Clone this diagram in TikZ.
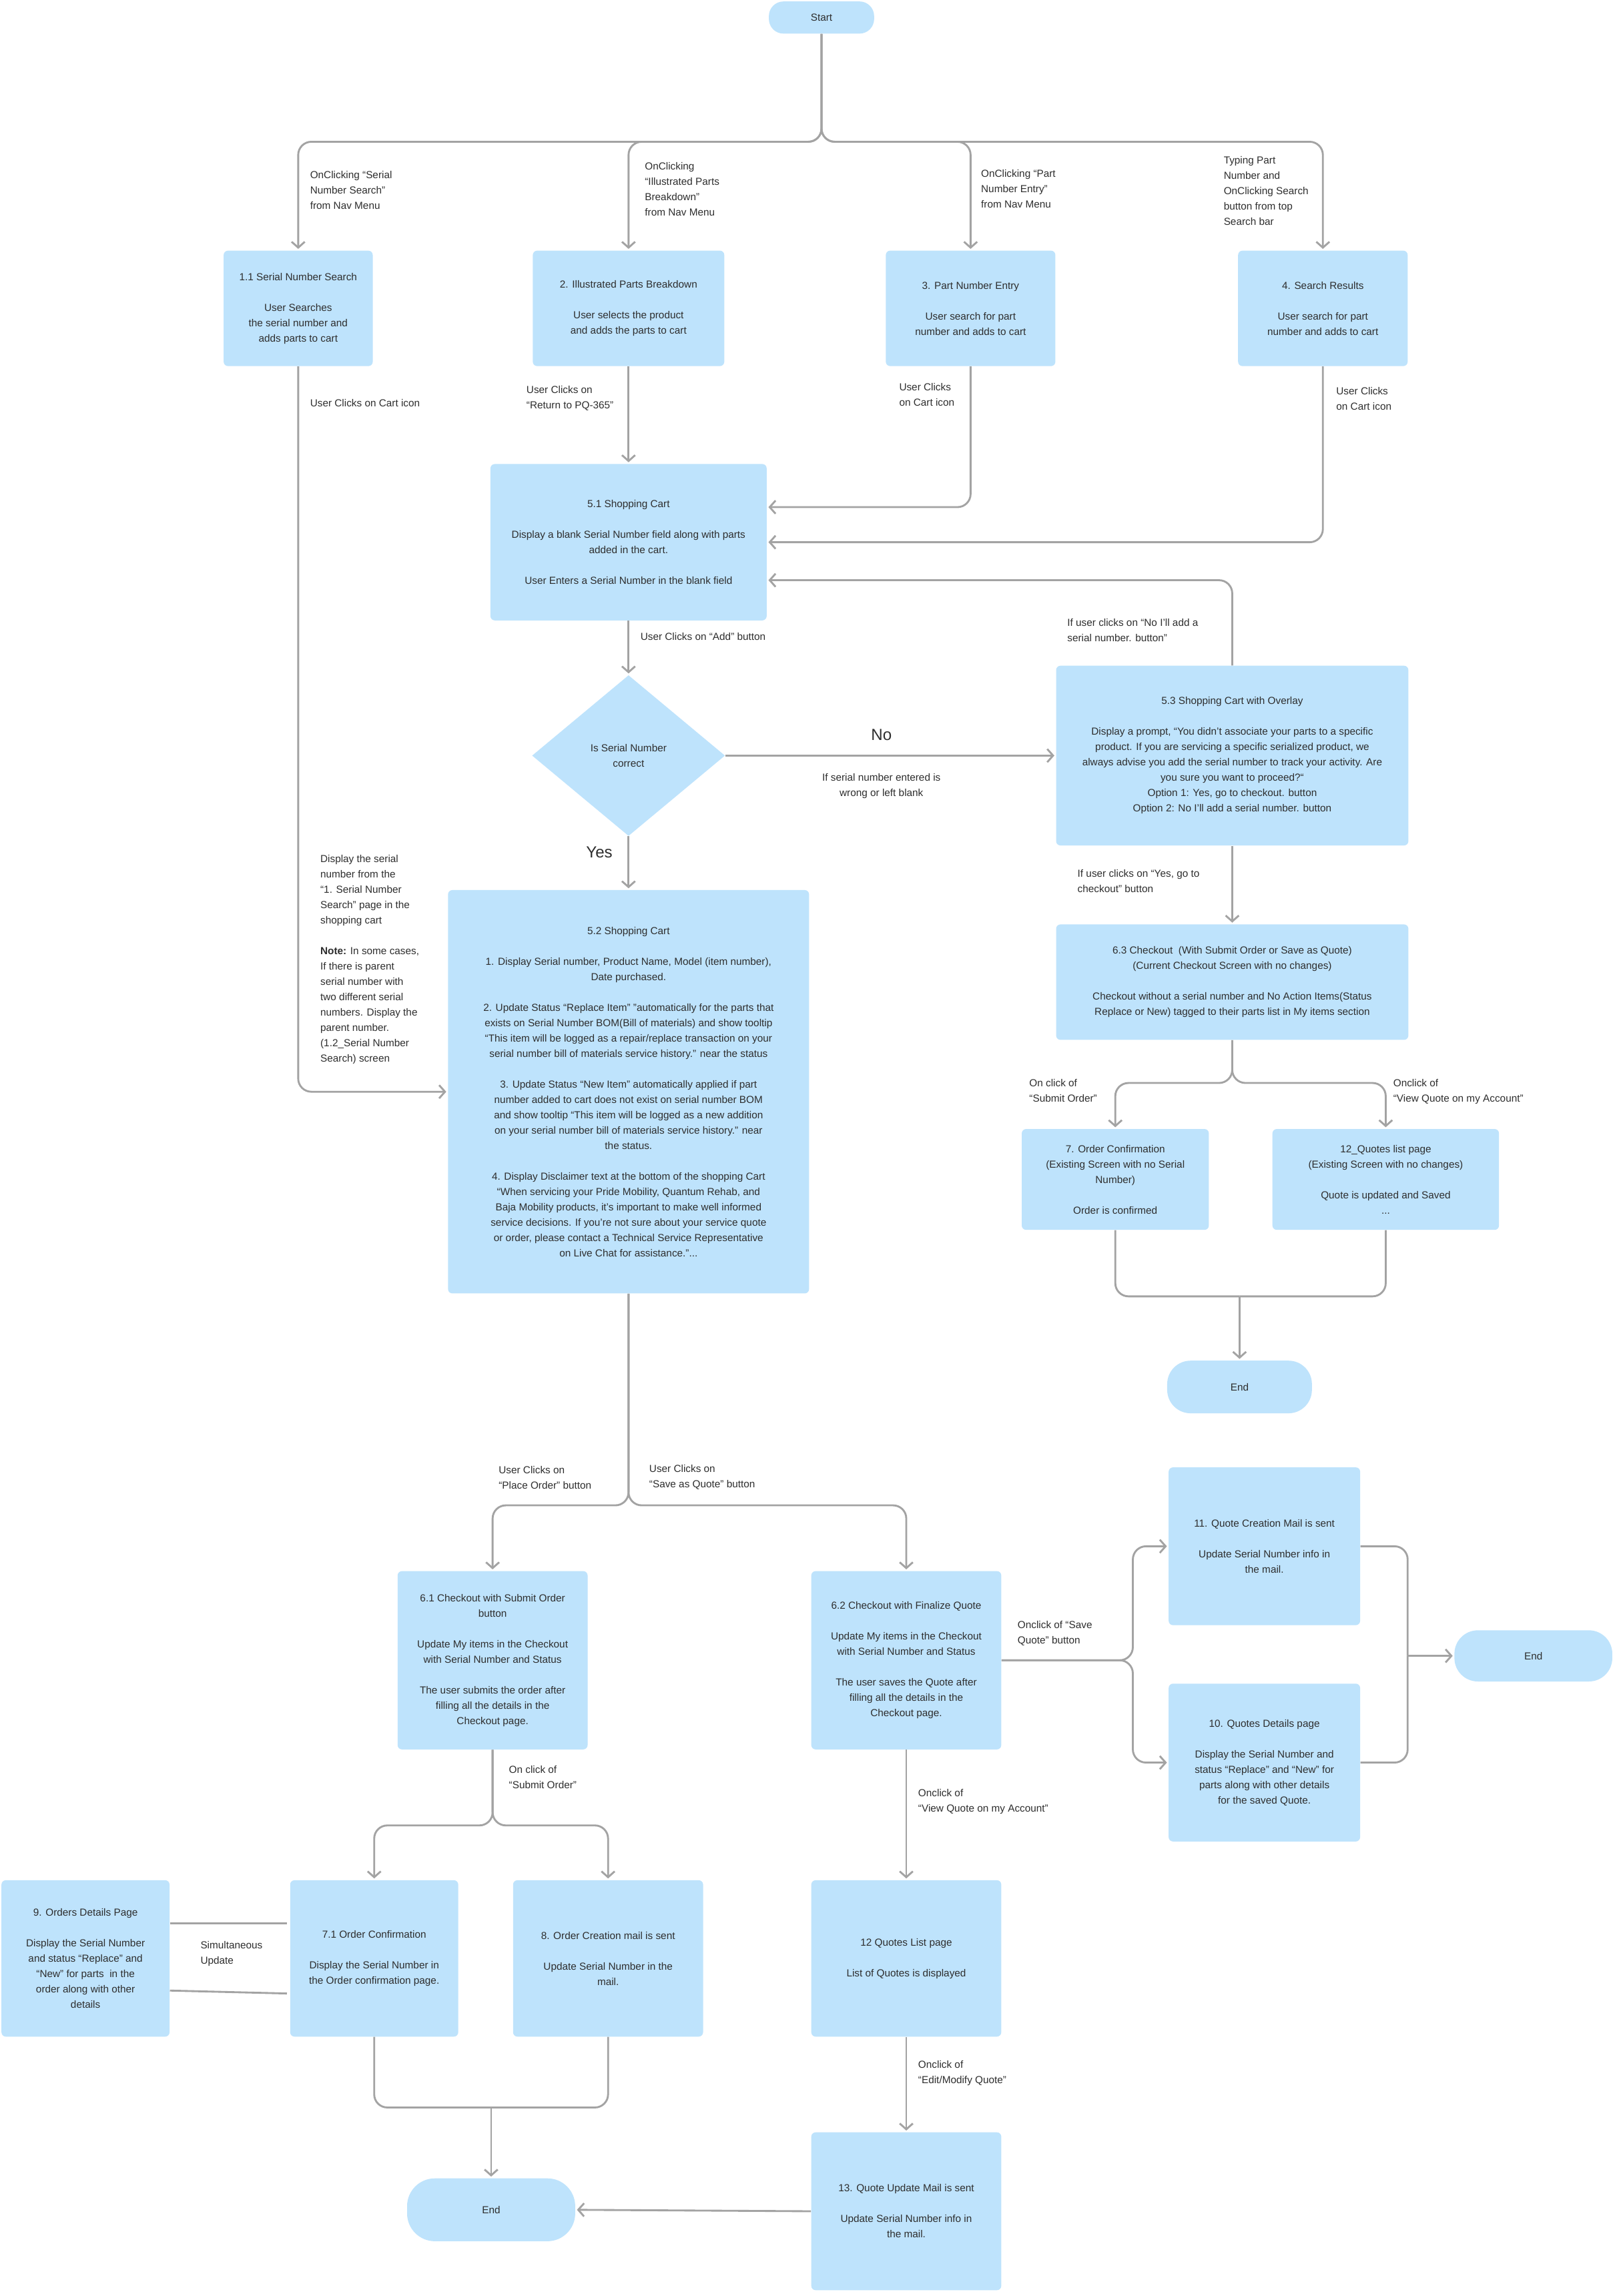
\documentclass[tikz,border=0pt]{standalone}
\usepackage{fontspec}
\setmainfont{Liberation Sans}
\usetikzlibrary{shapes.geometric,arrows.meta}
\definecolor{boxblue}{HTML}{BEE3FC}
\definecolor{lngray}{HTML}{A3A3A3}
\definecolor{txt}{HTML}{2E2E2E}
\newcommand\blk{\\[10.5pt]}
\newcommand\sz{\fontsize{7}{10.5}\selectfont}
\begin{document}
\begin{tikzpicture}[x=1pt,y=-1pt,
  box/.style={fill=boxblue,rounded corners=3pt,align=center,font=\sz,text=txt,inner sep=2pt},
  pill/.style={fill=boxblue,align=center,font=\sz,text=txt},
  lbl/.style={align=left,font=\sz,text=txt,anchor=north west,inner sep=0pt},
  ln/.style={draw=lngray,line width=1.3pt,rounded corners=9pt},
  arr/.style={ln,-{Straight Barb[length=4pt,width=9pt,line width=1.3pt]},shorten >=1pt}]
\useasboundingbox[fill=white] (0,0) rectangle (1106,1571);

% nodes
\node[pill,rounded corners=10pt,minimum width=72pt,minimum height=22pt] (start) at (562,12) {Start};
\node[box,minimum width=102pt,minimum height=79pt] (b11) at (204,211) {1.1 Serial Number Search\blk User Searches\\the serial number and\\adds parts to cart};
\node[box,minimum width=131pt,minimum height=79pt] (b2) at (430,211) {2. Illustrated Parts Breakdown\blk User selects the product\\and adds the parts to cart};
\node[box,minimum width=116pt,minimum height=79pt] (b3) at (664,211) {3. Part Number Entry\blk User search for part\\number and adds to cart};
\node[box,minimum width=116pt,minimum height=79pt] (b4) at (905,211) {4. Search Results\blk User search for part\\number and adds to cart};
\node[box,minimum width=189pt,minimum height=107pt] (c51) at (430,371) {5.1 Shopping Cart\blk Display a blank Serial Number field along with parts\\added in the cart.\blk User Enters a Serial Number in the blank field};
\node[diamond,fill=boxblue,minimum width=132pt,minimum height=110pt,inner sep=0pt,align=center,font=\sz,text=txt] (dia) at (430,517) {Is Serial Number\\correct};
\node[box,minimum width=241pt,minimum height=123pt] (c53) at (843,517) {5.3 Shopping Cart with Overlay\blk Display a prompt, “You didn’t associate your parts to a specific\\product. If you are servicing a specific serialized product, we\\always advise you add the serial number to track your activity. Are\\you sure you want to proceed?“\\Option 1: Yes, go to checkout. button\\Option 2: No I’ll add a serial number. button};
\node[box,minimum width=241pt,minimum height=79pt] (c63) at (843,672) {6.3 Checkout\ \ (With Submit Order or Save as Quote)\\(Current Checkout Screen with no changes)\blk Checkout without a serial number and No Action Items(Status\\Replace or New) tagged to their parts list in My items section};
\node[box,minimum width=128pt,minimum height=69pt] (b7) at (763,807) {7. Order Confirmation\\(Existing Screen with no Serial\\Number)\blk Order is confirmed};
\node[box,minimum width=155pt,minimum height=69pt] (b12q) at (948,807) {12\_Quotes list page\\(Existing Screen with no changes)\blk Quote is updated and Saved\\...};
\node[pill,rounded corners=16pt,minimum width=99pt,minimum height=36pt] (end1) at (848,949) {End};
\node[box,minimum width=247pt,minimum height=276pt] (c52) at (430,747) {5.2 Shopping Cart\blk 1. Display Serial number, Product Name, Model (item number),\\Date purchased.\blk 2. Update Status “Replace Item” ”automatically for the parts that\\exists on Serial Number BOM(Bill of materials) and show tooltip\\“This item will be logged as a repair/replace transaction on your\\serial number bill of materials service history.” near the status\blk 3. Update Status “New Item” automatically applied if part\\number added to cart does not exist on serial number BOM\\and show tooltip “This item will be logged as a new addition\\on your serial number bill of materials service history.” near\\the status.\blk 4. Display Disclaimer text at the bottom of the shopping Cart\\“When servicing your Pride Mobility, Quantum Rehab, and\\Baja Mobility products, it’s important to make well informed\\service decisions. If you’re not sure about your service quote\\or order, please contact a Technical Service Representative\\on Live Chat for assistance.”...};
\node[box,minimum width=130pt,minimum height=122pt] (b61) at (337,1136) {6.1 Checkout with Submit Order\\button\blk Update My items in the Checkout\\with Serial Number and Status\blk The user submits the order after\\filling all the details in the\\Checkout page.};
\node[box,minimum width=130pt,minimum height=122pt] (b62) at (620,1136) {6.2 Checkout with Finalize Quote\blk Update My items in the Checkout\\with Serial Number and Status\blk The user saves the Quote after\\filling all the details in the\\Checkout page.};
\node[box,minimum width=131pt,minimum height=108pt] (b11q) at (865,1058) {11. Quote Creation Mail is sent\blk Update Serial Number info in\\the mail.};
\node[box,minimum width=131pt,minimum height=108pt] (b10) at (865,1206) {10. Quotes Details page\blk Display the Serial Number and\\status “Replace” and “New” for\\parts along with other details\\for the saved Quote.};
\node[pill,rounded corners=16pt,minimum width=108pt,minimum height=35pt] (end2) at (1049,1133) {End};
\node[box,minimum width=115pt,minimum height=107pt] (b71) at (256,1340) {7.1 Order Confirmation\blk Display the Serial Number in\\the Order confirmation page.};
\node[box,minimum width=130pt,minimum height=107pt] (b8) at (416,1340) {8. Order Creation mail is sent\blk Update Serial Number in the\\mail.};
\node[box,minimum width=115pt,minimum height=107pt] (b9) at (58.5,1340) {9. Orders Details Page\blk Display the Serial Number\\and status “Replace” and\\“New” for parts\ \ in the\\order along with other\\details};
\node[box,minimum width=130pt,minimum height=107pt] (bq12) at (620,1340) {12 Quotes List page\blk List of Quotes is displayed};
\node[box,minimum width=130pt,minimum height=108pt] (b13) at (620,1513) {13. Quote Update Mail is sent\blk Update Serial Number info in\\the mail.};
\node[pill,rounded corners=19pt,minimum width=115pt,minimum height=43pt] (end3) at (336,1512) {End};

% labels
\node[lbl] (l1) at (212,117) {OnClicking “Serial\\Number Search”\\from Nav Menu};
\node[lbl] (l2) at (441,111) {OnClicking\\“Illustrated Parts\\Breakdown”\\from Nav Menu};
\node[lbl] (l3) at (671,116) {OnClicking “Part\\Number Entry”\\from Nav Menu};
\node[lbl] (l4) at (837,107) {Typing Part\\Number and\\OnClicking Search\\button from top\\Search bar};
\node[lbl] (l5) at (360,264) {User Clicks on\\“Return to PQ-365”};
\node[lbl] (l6) at (615,262) {User Clicks\\on Cart icon};
\node[lbl] (l7) at (914,265) {User Clicks\\on Cart icon};
\node[lbl] (l8) at (212,273) {User Clicks on Cart icon};
\node[lbl] (l9) at (730,423) {If user clicks on “No I’ll add a\\serial number. button”};
\node[lbl] (l10) at (438,433) {User Clicks on “Add” button};
\node[font=\fontsize{11}{13}\selectfont,text=txt] (lno) at (603,503) {No};
\node[align=center,font=\sz,text=txt] (lno2) at (603,538) {If serial number entered is\\wrong or left blank};
\node[font=\fontsize{11}{13}\selectfont,text=txt] (lyes) at (410,583) {Yes};
\node[lbl] (l11) at (219,585) {Display the serial\\number from the\\“1. Serial Number\\Search” page in the\\shopping cart\blk \textbf{Note:} In some cases,\\If there is parent\\serial number with\\two different serial\\numbers. Display the\\parent number.\\(1.2\_Serial Number\\Search) screen};
\node[lbl] (l12) at (737,595) {If user clicks on “Yes, go to\\checkout” button};
\node[lbl] (l13) at (704,738) {On click of\\“Submit Order”};
\node[lbl] (l14) at (953,738) {Onclick of\\“View Quote on my Account”};
\node[lbl] (l15) at (341,1003) {User Clicks on\\“Place Order” button};
\node[lbl] (l16) at (444,1002) {User Clicks on\\“Save as Quote” button};
\node[lbl] (l17) at (696,1109) {Onclick of “Save\\Quote” button};
\node[lbl] (l18) at (348,1208) {On click of\\“Submit Order”};
\node[lbl] (l19) at (628,1224) {Onclick of\\“View Quote on my Account”};
\node[lbl] (l20) at (137,1328) {Simultaneous\\Update};
\node[lbl] (l21) at (628,1410) {Onclick of\\“Edit/Modify Quote”};

% coordinates
\coordinate (hub) at (562,97);
\coordinate (s63) at (843,741);
\coordinate (m1) at (848,887);
\coordinate (s52) at (430,1030);
\coordinate (s62) at (775,1136);
\coordinate (m2) at (963,1133);
\coordinate (s61) at (337,1249);
\coordinate (m3) at (336,1442);

% connectors
\draw[arr] (start.south) -- (hub) -| (b11.north);
\draw[arr] (start.south) -- (hub) -| (b2.north);
\draw[arr] (start.south) -- (hub) -| (b3.north);
\draw[arr] (start.south) -- (hub) -| (b4.north);
\draw[arr] (b2.south) -- (c51.north);
\draw[arr] (b3.south) |- ([yshift=24pt]c51.east);
\draw[arr] (b4.south) |- (c51.east);
\draw[arr] (c53.north) |- ([yshift=-26pt]c51.east);
\draw[arr] (b11.south) |- (c52.west);
\draw[arr] (c51.south) -- (dia.north);
\draw[arr] (dia.east) -- (c53.west);
\draw[arr] (dia.south) -- (c52.north);
\draw[arr] (c53.south) -- (c63.north);
\draw[arr] (c63.south) -- (s63) -| (b7.north);
\draw[arr] (c63.south) -- (s63) -| (b12q.north);
\draw[ln] (b7.south) |- (m1);
\draw[ln] (b12q.south) |- (m1);
\draw[arr] (m1) -- (end1.north);
\draw[arr] (c52.south) -- (s52) -| (b61.north);
\draw[arr] (c52.south) -- (s52) -| (b62.north);
\draw[arr] (b62.east) -- (s62) |- (b11q.west);
\draw[arr] (b62.east) -- (s62) |- (b10.west);
\draw[ln] (b11q.east) -| (m2);
\draw[ln] (b10.east) -| (m2);
\draw[arr] (m2) -- (end2.west);
\draw[arr] (b61.south) -- (s61) -| (b71.north);
\draw[arr] (b61.south) -- (s61) -| (b8.north);
\draw[ln] (b71.south) |- (m3);
\draw[ln] (b8.south) |- (m3);
\draw[arr] (m3) -- (end3.north);
\draw[ln] ([yshift=24pt]b9.east) -- ([yshift=24pt,xshift=-2pt]b71.west);
\draw[ln] ([yshift=-22pt]b9.east) -- ([yshift=-24pt,xshift=-2pt]b71.west);
\draw[arr] (b62.south) -- (bq12.north);
\draw[arr] (bq12.south) -- (b13.north);
\draw[arr] (b13.west) -- (end3.east);
\end{tikzpicture}
\end{document}
